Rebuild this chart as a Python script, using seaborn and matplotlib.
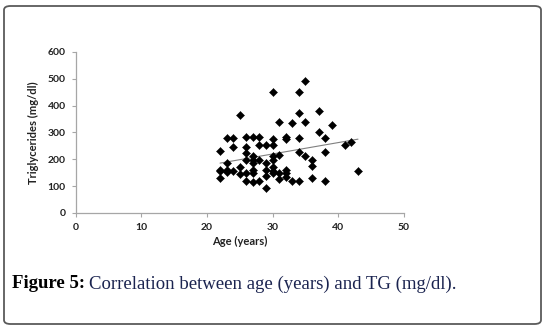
import numpy as np
import pandas as pd
import matplotlib
matplotlib.use("Agg")
import matplotlib.pyplot as plt
from matplotlib.patches import FancyBboxPatch
from matplotlib.transforms import offset_copy
import seaborn as sns

# Data
age = [22, 22, 22, 22,
       23, 23, 23, 23,
       24, 24, 24,
       25, 25, 25,
       26, 26, 26, 26, 26, 26,
       27, 27, 27, 27, 27, 27, 27,
       28, 28, 28, 28,
       29, 29, 29, 29, 29,
       30, 30, 30, 30, 30, 30, 30, 30,
       31, 31, 31, 31,
       32, 32, 32, 32, 32,
       33, 33,
       34, 34, 34, 34, 34,
       35, 35, 35,
       36, 36, 36,
       37, 37,
       38, 38, 38,
       39, 41, 42, 43]
tg = [231, 161, 156, 130,
      281, 188, 161, 152,
      281, 245, 156,
      366, 171, 144,
      283, 245, 225, 198, 150, 118,
      283, 213, 198, 188, 161, 150, 114,
      283, 253, 198, 120,
      255, 188, 161, 139, 92,
      452, 275, 255, 213, 198, 173, 158, 150,
      340, 215, 148, 127,
      285, 275, 161, 148, 134,
      336, 120,
      452, 374, 281, 229, 120,
      491, 338, 212,
      198, 176, 130,
      380, 300,
      281, 229, 120,
      328, 255, 266, 155]

x_ticks = [0, 10, 20, 30, 40, 50]
y_ticks = [0, 100, 200, 300, 400, 500, 600]
x_label = "Age (years)"
y_label = "Triglycerides (mg/dl)"
caption_bold = "Figure 5:"
caption_rest = "Correlation between age (years) and TG (mg/dl)."

df = pd.DataFrame({"age": age, "tg": tg})

sns.set_theme(style="white")
plt.rcParams["font.family"] = ["Lato", "DejaVu Sans"]

fig = plt.figure(figsize=(5.46, 3.29), dpi=100)
ax = fig.add_axes([75.5 / 546, 1 - 213 / 329, (404 - 75.5) / 546, (213 - 52) / 329])

sns.scatterplot(data=df, x="age", y="tg", marker="D", s=17, color="black",
                edgecolor="black", linewidth=0.3, ax=ax, zorder=3)
sns.regplot(data=df, x="age", y="tg", scatter=False, ci=None, truncate=True,
            color="#808080", line_kws={"linewidth": 0.8}, ax=ax)

ax.set_xlim(0, 50)
ax.set_ylim(0, 600)
ax.set_xticks(x_ticks)
ax.set_yticks(y_ticks)
ax.set_xticklabels([str(v) for v in x_ticks], fontsize=7.5, fontweight="bold", color="#222222")
ax.set_yticklabels([str(v) for v in y_ticks], fontsize=7.5, fontweight="bold", color="#222222")
ax.set_xlabel(x_label, fontsize=8, fontweight="bold", color="#222222", labelpad=3)
ax.set_ylabel(y_label, fontsize=8, fontweight="bold", color="#222222", labelpad=6)

for s in ["top", "right"]:
    ax.spines[s].set_visible(False)
for s in ["left", "bottom"]:
    ax.spines[s].set_color("#a6a6a6")
    ax.spines[s].set_linewidth(0.9)
ax.tick_params(axis="both", which="both", length=3, width=0.8, color="#a6a6a6",
               direction="out", bottom=True, left=True, pad=4)

# Caption
serif = ["Liberation Serif", "DejaVu Serif"]
t1 = fig.text(12 / 546, 1 - 284 / 329, caption_bold, fontsize=13.5, fontweight="bold",
              family=serif, color="black", va="center", ha="left")
fig.canvas.draw()
bb = t1.get_window_extent(renderer=fig.canvas.get_renderer())
x2 = (bb.x1 + 4) / fig.bbox.width
fig.text(x2, 1 - 284 / 329, caption_rest, fontsize=13.5, family=serif,
         color="#1b2450", va="center", ha="left")

# Rounded border
border = FancyBboxPatch((4 / 546, 5 / 329), 537 / 546, 318 / 329,
                        boxstyle="round,pad=0,rounding_size=0.012",
                        transform=fig.transFigure, fill=False,
                        edgecolor="#5a5a5a", linewidth=1.3)
fig.patches.append(border)

fig.savefig("out.png", dpi=100)
